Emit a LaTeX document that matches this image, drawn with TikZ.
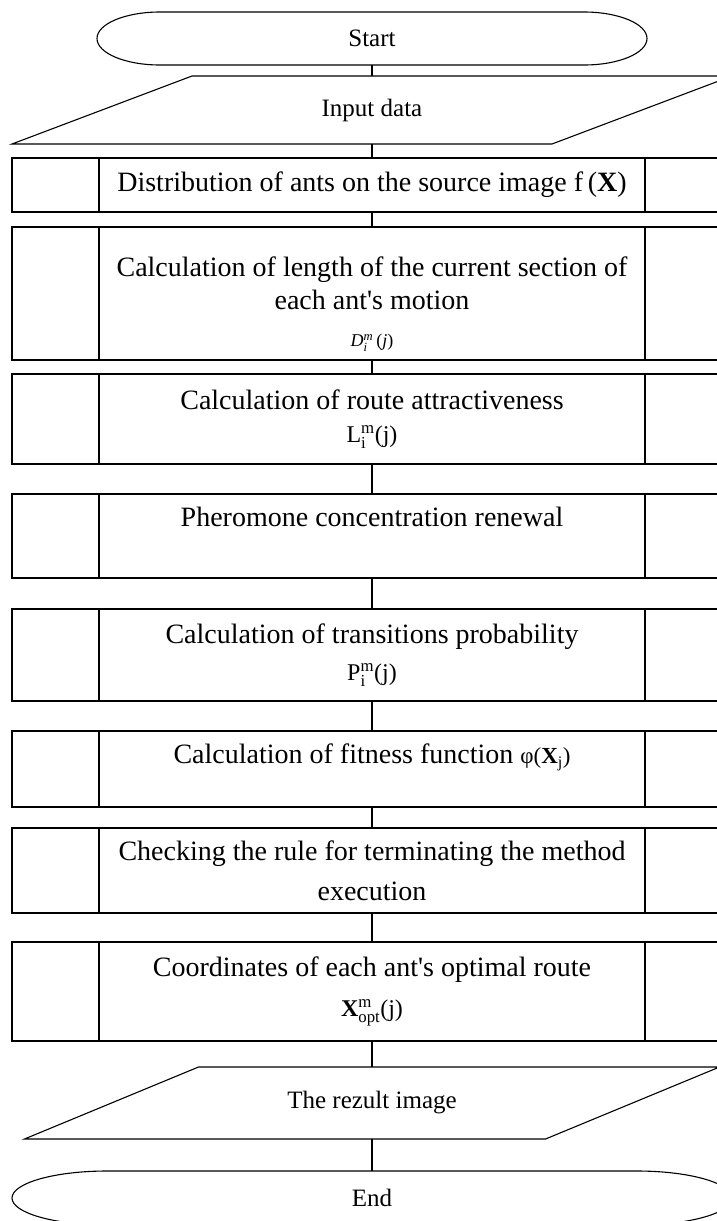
\documentclass[tikz,border=0pt]{standalone}
\usepackage{amsmath}
\usepackage{fontspec}
\setmainfont{Liberation Serif}
\usetikzlibrary{positioning}

% side bars of a predefined-process box
\newcommand{\predef}[1]{%
  \draw ([xshift=87pt]#1.north west) -- ([xshift=87pt]#1.south west);
  \draw ([xshift=-87pt]#1.north east) -- ([xshift=-87pt]#1.south east);}
% input/output parallelogram round a node
\newcommand{\ioframe}[2]{%
  \draw ([xshift=#2]#1.north west) -- (#1.north east) -- ([xshift=-#2]#1.south east) -- (#1.south west) -- cycle;}
% terminator round a node
\newcommand{\termframe}[3]{%
  \draw ([xshift=#2]#1.north west) -- ([xshift=-#2]#1.north east)
    arc[start angle=90, end angle=-90, x radius=#2, y radius=#3]
    -- ([xshift=#2]#1.south west)
    arc[start angle=270, end angle=90, x radius=#2, y radius=#3] -- cycle;}

\begin{document}
\begin{tikzpicture}[x=1pt, y=1pt, line width=1.1pt, node distance=14pt,
    procbox/.style={rectangle, draw, minimum width=720pt, inner sep=0pt, outer sep=0pt, align=center, font=\fontsize{28}{33}\selectfont},
    iobox/.style={rectangle, inner sep=0pt, outer sep=0pt, align=center, font=\fontsize{25}{30}\selectfont},
    termbox/.style={rectangle, inner sep=0pt, outer sep=0pt, align=center, font=\fontsize{25}{30}\selectfont}]
    \useasboundingbox (0,0) rectangle (717,-1221);
    \clip (0,0) rectangle (717,-1221);

    % Define nodes
    \node [termbox, minimum width=550pt, minimum height=53pt] (start) at (372,-38.5) {Start};
    \node [iobox, minimum width=720pt, minimum height=68pt, below=11pt of start] (input) {Input data};
    \node [procbox, minimum height=54pt, below=14pt of input] (distr) {Distribution of ants on the source image f\,(\textbf{X})};
    \node [procbox, minimum height=133pt, below=15pt of distr] (length) {\rule{0pt}{41pt}Calculation of length of the current section of\\ each ant\textquotesingle s motion\\[4.5pt] {\fontsize{18}{20}\selectfont\textit{D}$^{\textit{m}}_{\textit{i}}$\,(\textit{j})}};
    \node [procbox, minimum height=90pt, below=14pt of length] (attract) {Calculation of route attractiveness\\ {\fontsize{24}{26}\selectfont L$^{\text{m}}_{\text{i}}$(j)}};
    \node [procbox, minimum height=84pt, below=30pt of attract] (pher) {Pheromone concentration renewal\rule[-38pt]{0pt}{38pt}};
    \node [procbox, minimum height=92pt, below=31pt of pher] (trans) {Calculation of transitions probability\\[3.5pt] {\fontsize{24}{26}\selectfont P$^{\text{m}}_{\text{i}}$(j)}};
    \node [procbox, minimum height=76pt, below=30pt of trans] (fitness) {Calculation of fitness function {\fontsize{23}{26}\selectfont φ(\textbf{X}$_{\text{j}}$)}\rule[-31pt]{0pt}{31pt}};
    \node [procbox, minimum height=85pt, below=21pt of fitness] (check) {Checking the rule for terminating the method\\[7pt] execution};
    \node [procbox, minimum height=99pt, below=29pt of check] (route) {Coordinates of each ant\textquotesingle s optimal route\\[6.5pt] {\fontsize{24}{28}\selectfont\textbf{X}$^{\text{m}}_{\text{opt}}$(j)}};
    \node [iobox, minimum width=695pt, minimum height=72pt, below=26pt of route] (result) {The rezult image};
    \node [termbox, minimum width=720pt, minimum height=54pt, below=32pt of result] (stop) {End};

    % Define outlines
    \termframe{start}{63pt}{26.5pt}
    \ioframe{input}{180pt}
    \predef{distr}
    \predef{length}
    \predef{attract}
    \predef{pher}
    \predef{trans}
    \predef{fitness}
    \predef{check}
    \predef{route}
    \ioframe{result}{174pt}
    \termframe{stop}{95pt}{27pt}

    % Define connectors
    \draw (start) -- (input);
    \draw (input) -- (distr);
    \draw (distr) -- (length);
    \draw (length) -- (attract);
    \draw (attract) -- (pher);
    \draw (pher) -- (trans);
    \draw (trans) -- (fitness);
    \draw (fitness) -- (check);
    \draw (check) -- (route);
    \draw (route) -- (result);
    \draw (result) -- (stop);

\end{tikzpicture}
\end{document}
